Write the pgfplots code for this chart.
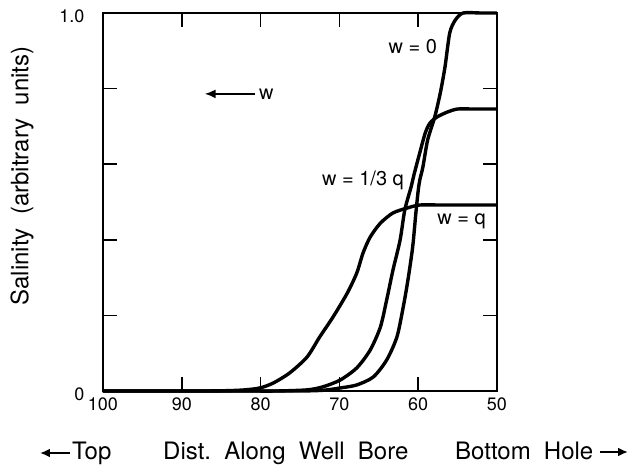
\documentclass[border=0pt]{standalone}
\usepackage{fontspec}
\setmainfont{TeX Gyre Heros}
\usepackage{pgfplots}
\pgfplotsset{compat=1.18}
\usetikzlibrary{arrows.meta}
\begin{document}
\begin{tikzpicture}
\begin{axis}[
  at={(0,0)}, anchor=south west,
  scale only axis, width=394pt, height=378pt,
  xmin=50, xmax=100, ymin=0, ymax=1,
  x dir=reverse,
  xtick={50,60,70,80,90,100},
  ytick={0,0.2,0.4,0.6,0.8,1},
  yticklabels={0,,,,,1.0},
  xticklabels={50,60,70,80,90,100},
  tick align=inside,
  major tick length=14pt,
  tick style={line width=1.6pt, black},
  axis line style={line width=2.6pt},
  xticklabel style={font=\fontsize{18}{20}\selectfont, yshift=-3pt},
  yticklabel style={font=\fontsize{18}{20}\selectfont, xshift=-15pt, yshift=-3pt},
  clip=false,
]
\addplot[black, line width=3.4pt, line join=round, smooth, tension=0.45] coordinates {
(100,0) (90,0) (80,0) (75,0) (72,0.002) (69.9,0.008) (67.8,0.016) (65.7,0.037) (64.0,0.082)
(62.7,0.143) (61.9,0.222) (61.3,0.294) (60.7,0.381) (60.3,0.47) (60.0,0.53)
(59.8,0.558) (59.4,0.593) (58.8,0.664) (57.9,0.725) (57.2,0.788) (56.6,0.857)
(56.0,0.947) (55.3,0.981) (54.3,1.0) (52,1.0) (50,1.0)};
\addplot[black, line width=3.4pt, line join=round, smooth, tension=0.45] coordinates {
(100,0) (90,0) (82,0) (78,0) (74.1,0.003) (72.1,0.011) (69.9,0.029) (67.8,0.061) (66.1,0.108)
(64.8,0.169) (64.0,0.241) (63.2,0.320) (62.3,0.399) (61.7,0.479) (60.9,0.54)
(60.5,0.575) (59.8,0.630) (59.1,0.683) (58.5,0.709) (57.6,0.725) (56.3,0.738)
(55.0,0.746) (53,0.746) (50,0.746)};
\addplot[black, line width=3.4pt, line join=round, smooth, tension=0.45] coordinates {
(100,0) (95,0) (90,0) (87,0) (84,0.001) (82,0.003) (80.1,0.008) (78.4,0.021) (76.3,0.048) (74.1,0.090)
(72.5,0.143) (70.8,0.196) (69.0,0.259) (67.8,0.312) (67.0,0.365) (66.1,0.407)
(64.8,0.444) (63.2,0.471) (61.4,0.484) (59.8,0.492) (57,0.492) (54,0.492) (50,0.492)};
\node[anchor=east, font=\fontsize{20}{22}\selectfont, inner sep=0pt] at (axis cs:57.6,0.91) {w = 0};
\node[anchor=east, font=\fontsize{20}{22}\selectfont, inner sep=0pt] at (axis cs:61.8,0.558) {w = 1/3 q};
\node[anchor=east, font=\fontsize{20}{22}\selectfont, inner sep=0pt] at (axis cs:51.4,0.45) {w = q};
\draw[line width=1.8pt, -{Latex[length=11pt,width=9pt]}] (axis cs:80.7,0.786) -- (axis cs:87.1,0.786);
\node[anchor=west, font=\fontsize{20}{22}\selectfont, inner sep=0pt] at (axis cs:80.2,0.786) {w};
\end{axis}
\node[rotate=90, font=\fontsize{24}{26}\selectfont, inner sep=0pt] at (-81pt,215pt) {Salinity\hspace{0.55em}(arbitrary\hspace{0.55em}units)};
\begin{scope}[every node/.style={font=\fontsize{24}{26}\selectfont, inner sep=0pt, anchor=base west}]
\draw[line width=2.2pt, -{Latex[length=10pt,width=9pt]}] (-33pt,-62pt) -- (-63pt,-62pt);
\node at (-31pt,-68pt) {Top};
\node at (60pt,-68pt) {Dist.\hspace{0.55em}Along\hspace{0.55em}Well\hspace{0.55em}Bore};
\node at (352pt,-68pt) {Bottom\hspace{0.55em}Hole};
\draw[line width=2.2pt, -{Latex[length=10pt,width=9pt]}] (497pt,-61pt) -- (525pt,-61pt);
\end{scope}
\pgfresetboundingbox
\path[use as bounding box] (-103pt,-73pt) rectangle (526pt,391pt);
\end{tikzpicture}
\end{document}
